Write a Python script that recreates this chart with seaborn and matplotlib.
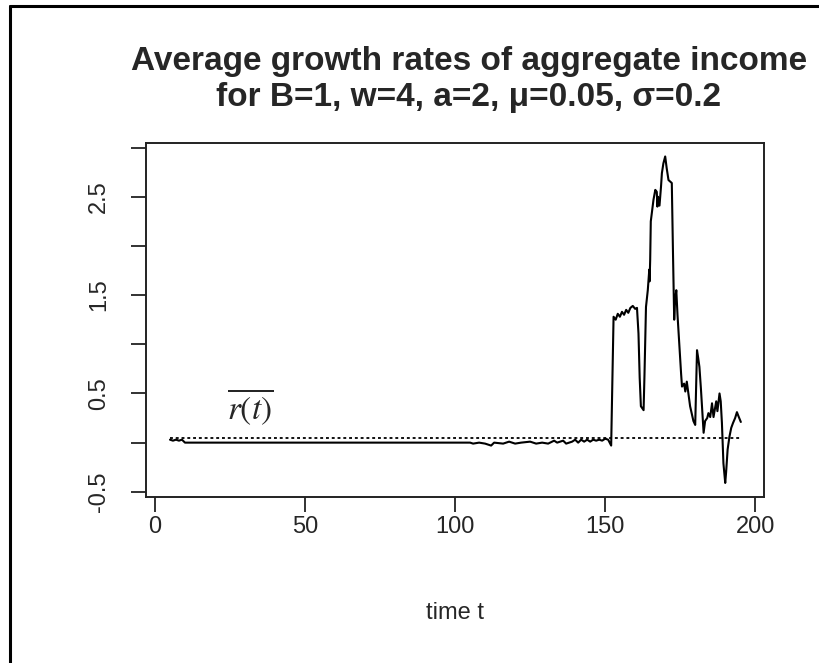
import numpy as np
import pandas as pd
import matplotlib
matplotlib.use("Agg")
import matplotlib.pyplot as plt
import seaborn as sns
from matplotlib.lines import Line2D

# ------------------- Data -------------------
# time points of the traced series (dense where the series moves)
time_t = [5, 6, 7, 8, 9, 10, 105, 106, 108, 110, 112, 113, 116, 118, 120, 122,
          125, 127, 129, 131, 133, 134, 136, 137, 139, 140, 141, 142, 143, 144,
          145, 146, 147, 148, 149, 150, 151, 152,
          152.4, 152.8, 153.5, 154.2, 154.9, 155.6, 156.3, 157, 157.7, 158.4,
          159.2, 160, 160.6, 161.1, 161.5, 161.9, 162.8, 163.1, 163.6, 164.2,
          164.7, 164.8, 165.0, 165.2, 166.1, 166.7, 167.2, 167.4, 167.6, 168.1,
          168.6, 168.9, 169.4, 170.0, 170.5, 171.1, 172.2, 172.6, 173.0, 173.3,
          173.7, 174.1, 174.8, 175.3, 175.6, 176.3, 176.7, 177.2, 178.3, 179.4,
          180.0, 180.6, 181.0, 181.4, 181.9, 182.8, 183.3, 184.0, 184.4, 185.0,
          185.6, 186.1, 187.0, 187.4, 188.1, 188.5, 188.9, 189.4, 190.0, 190.3,
          190.8, 191.4, 192.0, 192.6, 193.3, 193.9, 194.4, 195.2]
growth = [0.03, 0.02, 0.03, 0.02, 0.03, 0.0, 0.0, -0.01, 0.0, -0.01, -0.03, 0.0,
          -0.01, 0.01, -0.01, 0.0, 0.01, -0.01, 0.0, -0.01, 0.02, 0.0, 0.02,
          -0.01, 0.01, 0.03, 0.0, 0.03, 0.01, 0.03, 0.01, 0.03, 0.02, 0.03, 0.02,
          0.04, 0.03, -0.03,
          0.63, 1.28, 1.25, 1.31, 1.28, 1.33, 1.30, 1.35, 1.32, 1.37,
          1.39, 1.36, 1.37, 1.11, 0.66, 0.37, 0.33, 0.69, 1.38, 1.55,
          1.76, 1.64, 1.86, 2.25, 2.47, 2.57, 2.55, 2.40, 2.50, 2.41,
          2.60, 2.74, 2.84, 2.91, 2.79, 2.67, 2.64, 1.92, 1.25, 1.45,
          1.55, 1.30, 0.95, 0.70, 0.57, 0.60, 0.52, 0.62, 0.37, 0.22,
          0.18, 0.94, 0.86, 0.77, 0.55, 0.10, 0.22, 0.25, 0.30, 0.26,
          0.40, 0.26, 0.42, 0.32, 0.50, 0.42, 0.20, -0.21, -0.41, -0.30,
          -0.07, 0.06, 0.15, 0.20, 0.25, 0.31, 0.27, 0.21]
mean_t = [5, 195.2]
mean_level = [0.05, 0.05]

y_ticks = [-0.5, 0.0, 0.5, 1.0, 1.5, 2.0, 2.5, 3.0]
y_labels = ["-0.5", "", "0.5", "", "1.5", "", "2.5", ""]
x_ticks = [0, 50, 100, 150, 200]
x_labels = ["0", "50", "100", "150", "200"]

df = pd.DataFrame({"time": time_t, "growth": growth})
df_mean = pd.DataFrame({"time": mean_t, "growth": mean_level})

# ------------------- Plot -------------------
sns.set_style("white")
plt.rcParams["font.family"] = ["Liberation Sans", "DejaVu Sans"]
plt.rcParams["mathtext.fontset"] = "stix"

fig = plt.figure(figsize=(8.2, 6.63), dpi=100)
ax = fig.add_axes([0.178, 0.2508, 0.754, 0.534])

sns.lineplot(data=df, x="time", y="growth", ax=ax, color="black",
             linewidth=1.5, estimator=None, sort=False)
sns.lineplot(data=df_mean, x="time", y="growth", ax=ax, color="black",
             linewidth=1.3, linestyle=(0, (1.6, 1.6)), estimator=None)

ax.set_xlim(-3, 203)
ax.set_ylim(-0.55, 3.05)
ax.set_xticks(x_ticks)
ax.set_xticklabels(x_labels, fontsize=17)
ax.set_yticks(y_ticks)
ax.set_yticklabels(y_labels, fontsize=17, rotation=90, va="center")
ax.tick_params(axis="both", direction="out", length=11, width=1.3,
               color="#222222", left=True, bottom=True)
ax.tick_params(axis="x", pad=3)
ax.tick_params(axis="y", pad=15)
for side in ax.spines.values():
    side.set_visible(True)
    side.set_linewidth(1.4)
    side.set_color("#222222")

ax.set_xlabel("time t", fontsize=17, labelpad=46)
ax.set_ylabel("")
ax.text(31.7, 0.36, r"$\overline{r(t)}$", fontsize=24, ha="center", va="center")

fig.text(0.572, 0.88, "Average growth rates of aggregate income\nfor B=1, w=4, a=2, \u03bc=0.05, \u03c3=0.2",
         ha="center", va="center", fontsize=24, fontweight="bold", linespacing=1.2)

# frame lines at the top and left edge of the image
fig.add_artist(Line2D([10 / 820, 10 / 820], [0, 1 - 6 / 663], transform=fig.transFigure,
                      color="black", linewidth=2.2))
fig.add_artist(Line2D([10 / 820, 1], [1 - 6 / 663, 1 - 6 / 663], transform=fig.transFigure,
                      color="black", linewidth=2.2))

plt.savefig("out.png", dpi=100)
plt.close()
